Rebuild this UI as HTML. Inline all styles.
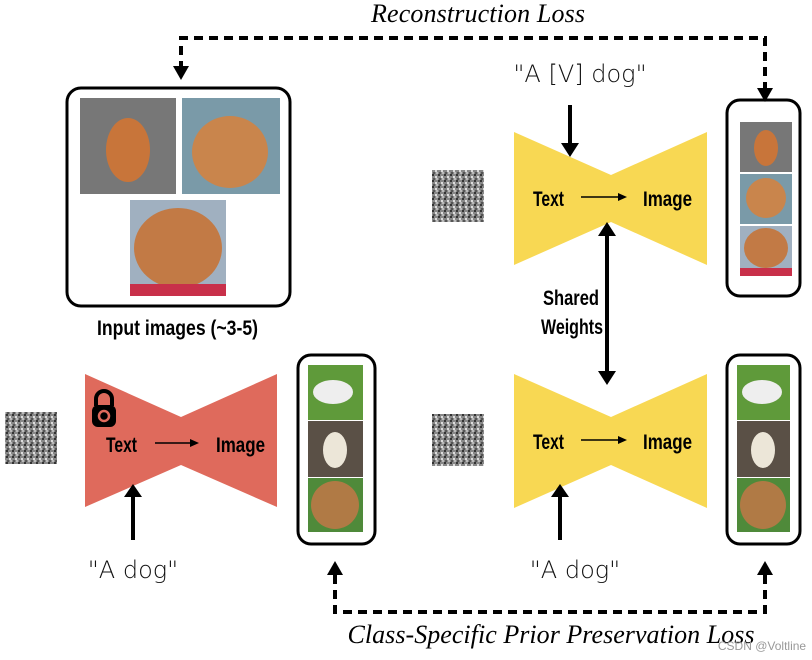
<!DOCTYPE html>
<html><head><meta charset="utf-8"><style>
body{margin:0;background:#fff}
svg{display:block}
.b{font-family:"Liberation Sans",sans-serif;font-weight:bold;font-size:21px;fill:#000}
.i{font-family:"Liberation Serif",serif;font-style:italic;font-size:26px;fill:#000}
.h{font-family:"DejaVu Sans",sans-serif;font-size:24px;fill:#111;font-weight:200}
</style></head><body>
<svg width="812" height="660" viewBox="0 0 812 660" xmlns="http://www.w3.org/2000/svg">
<defs>
<pattern id="nz" width="6" height="6" patternUnits="userSpaceOnUse"><rect width="6" height="6" fill="#888"/><rect x="0" y="0" width="2" height="2" fill="#333"/><rect x="3" y="2" width="2" height="2" fill="#ddd"/><rect x="1" y="4" width="2" height="2" fill="#555"/><rect x="4" y="4" width="2" height="2" fill="#bbb"/></pattern>
</defs>
<path d="M181,70 V38 H765 V92" fill="none" stroke="#000" stroke-width="4" stroke-dasharray="9,6"/>
<path d="M173,66 L189,66 L181,80z"/>
<path d="M757,88 L773,88 L765,102z"/>
<text class="i" x="478" y="22" text-anchor="middle" textLength="214">Reconstruction Loss</text>
<rect x="67" y="88" width="223" height="218" rx="14" fill="none" stroke="#000" stroke-width="3"/>
<rect x="80" y="98" width="96" height="96" fill="#777"/><ellipse cx="128" cy="150" rx="22" ry="32" fill="#c8753a"/>
<rect x="182" y="98" width="98" height="96" fill="#7a9aa8"/><ellipse cx="230" cy="152" rx="38" ry="36" fill="#c9854c"/>
<rect x="130" y="200" width="96" height="96" fill="#a0b0c0"/><ellipse cx="178" cy="248" rx="44" ry="40" fill="#c27a45"/><rect x="130" y="284" width="96" height="12" fill="#c8304a"/>
<text class="b" x="97" y="335" textLength="161" lengthAdjust="spacingAndGlyphs">Input images (~3-5)</text>
<rect x="5" y="412" width="52" height="52" fill="url(#nz)"/>
<rect x="432" y="170" width="52" height="52" fill="url(#nz)"/>
<rect x="432" y="414" width="52" height="52" fill="url(#nz)"/>
<path d="M85,374 L181,417 L277,374 L277,507 L181,465 L85,507z" fill="#df6a5c"/>
<path d="M514,132 L611,175 L707,132 L707,265 L611,222 L514,265z" fill="#f8d853"/>
<path d="M514,374 L611,417 L707,374 L707,508 L611,465 L514,508z" fill="#f8d853"/>
<path d="M96,406 V399 a8,8 0 0 1 16,0 V406" fill="none" stroke="#000" stroke-width="4"/>
<rect x="92" y="405" width="24" height="22" rx="6"/><circle cx="104" cy="416" r="5" fill="none" stroke="#df6a5c" stroke-width="2.5"/>
<text class="b" x="106" y="452" textLength="31" lengthAdjust="spacingAndGlyphs">Text</text><text class="b" x="216" y="452" textLength="49" lengthAdjust="spacingAndGlyphs">Image</text>
<line x1="155" y1="443" x2="190" y2="443" stroke="#000" stroke-width="1.5"/><path d="M190,439 L199,443 L190,447z"/>
<text class="b" x="533" y="206" textLength="31" lengthAdjust="spacingAndGlyphs">Text</text><text class="b" x="643" y="206" textLength="49" lengthAdjust="spacingAndGlyphs">Image</text>
<line x1="581" y1="197" x2="618" y2="197" stroke="#000" stroke-width="1.5"/><path d="M618,193 L627,197 L618,201z"/>
<text class="b" x="533" y="449" textLength="31" lengthAdjust="spacingAndGlyphs">Text</text><text class="b" x="643" y="449" textLength="49" lengthAdjust="spacingAndGlyphs">Image</text>
<line x1="581" y1="440" x2="618" y2="440" stroke="#000" stroke-width="1.5"/><path d="M618,436 L627,440 L618,444z"/>
<line x1="133" y1="540" x2="133" y2="495" stroke="#000" stroke-width="4"/><path d="M124,497 L142,497 L133,484z"/>
<line x1="560" y1="540" x2="560" y2="495" stroke="#000" stroke-width="4"/><path d="M551,497 L569,497 L560,484z"/>
<line x1="570" y1="105" x2="570" y2="145" stroke="#000" stroke-width="4"/><path d="M561,143 L579,143 L570,157z"/>
<line x1="607" y1="234" x2="607" y2="373" stroke="#000" stroke-width="4"/><path d="M598,236 L616,236 L607,222z"/><path d="M598,371 L616,371 L607,385z"/>
<text class="b" x="571" y="305" text-anchor="middle" textLength="56" lengthAdjust="spacingAndGlyphs">Shared</text><text class="b" x="572" y="334" text-anchor="middle" textLength="62" lengthAdjust="spacingAndGlyphs">Weights</text>
<text class="h" x="580" y="82" text-anchor="middle">"A [V] dog"</text>
<text class="h" x="133" y="578" text-anchor="middle">"A dog"</text>
<text class="h" x="575" y="578" text-anchor="middle">"A dog"</text>
<rect x="298" y="355" width="77" height="189" rx="13" fill="none" stroke="#000" stroke-width="3"/>
<rect x="308" y="365" width="55" height="55" fill="#5f9a3a"/><ellipse cx="333" cy="392" rx="20" ry="12" fill="#eee"/>
<rect x="308" y="421" width="55" height="56" fill="#5a5046"/><ellipse cx="335" cy="450" rx="12" ry="18" fill="#ece6d8"/>
<rect x="308" y="478" width="55" height="54" fill="#4f8a3a"/><ellipse cx="335" cy="505" rx="24" ry="24" fill="#b07a45"/>
<rect x="727" y="355" width="73" height="189" rx="13" fill="none" stroke="#000" stroke-width="3"/>
<rect x="737" y="365" width="53" height="55" fill="#5f9a3a"/><ellipse cx="762" cy="392" rx="20" ry="12" fill="#eee"/>
<rect x="737" y="421" width="53" height="56" fill="#5a5046"/><ellipse cx="763" cy="450" rx="12" ry="18" fill="#ece6d8"/>
<rect x="737" y="478" width="53" height="54" fill="#4f8a3a"/><ellipse cx="763" cy="505" rx="23" ry="24" fill="#b07a45"/>
<rect x="727" y="100" width="73" height="196" rx="13" fill="none" stroke="#000" stroke-width="3"/>
<rect x="740" y="122" width="52" height="50" fill="#777"/><ellipse cx="766" cy="148" rx="12" ry="18" fill="#c8753a"/>
<rect x="740" y="174" width="52" height="50" fill="#7a9aa8"/><ellipse cx="766" cy="198" rx="20" ry="20" fill="#c9854c"/>
<rect x="740" y="226" width="52" height="50" fill="#a0b0c0"/><ellipse cx="766" cy="248" rx="22" ry="20" fill="#c27a45"/><rect x="740" y="268" width="52" height="8" fill="#c8304a"/>
<path d="M335,575 V612 H765 V575" fill="none" stroke="#000" stroke-width="4" stroke-dasharray="9,6"/>
<path d="M327,575 L343,575 L335,561z"/>
<path d="M757,575 L773,575 L765,561z"/>
<text class="i" x="551" y="643" text-anchor="middle" textLength="407">Class-Specific Prior Preservation Loss</text>
<text x="762" y="650" text-anchor="middle" font-family="Liberation Sans,sans-serif" font-size="12" fill="#999">CSDN @Voltline</text>
</svg>
</body></html>
